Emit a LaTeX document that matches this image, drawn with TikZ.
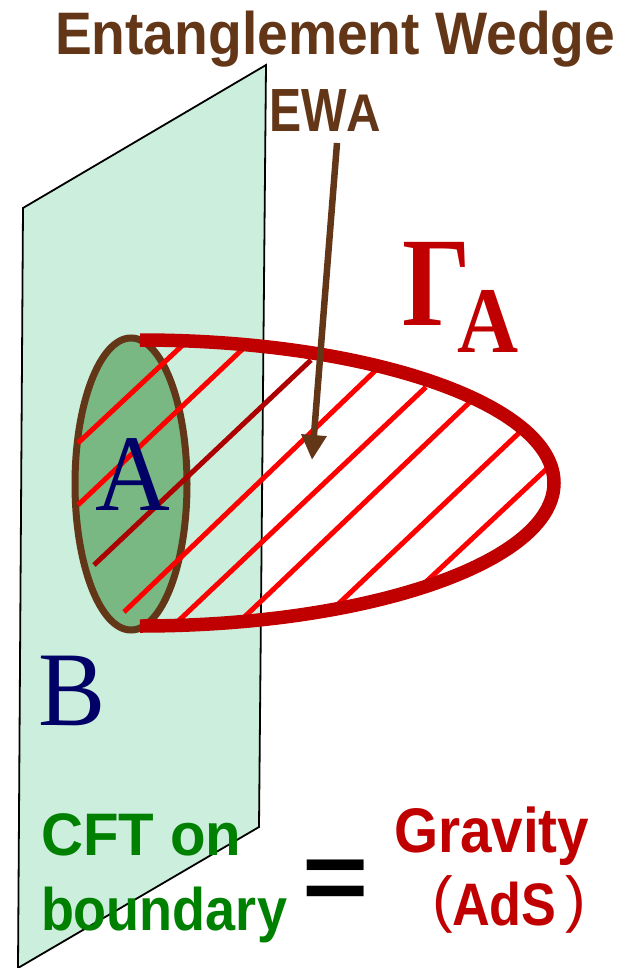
\documentclass[tikz,border=0pt]{standalone}
\usepackage{fontspec}
\setmainfont{Liberation Serif}
\newfontfamily\sansf{Liberation Sans}
\usetikzlibrary{arrows.meta}
\definecolor{planefill}{HTML}{CCEEDC}
\definecolor{diskfill}{HTML}{79B882}
\definecolor{brownc}{HTML}{633618}
\definecolor{gred}{HTML}{C00000}
\definecolor{hred}{HTML}{FF0000}
\definecolor{navyc}{HTML}{000066}
\definecolor{greenc}{HTML}{008000}
\newcommand\fsz[1]{\fontsize{#1}{#1}\selectfont}
\tikzset{
  txt/.style={inner sep=0pt, outer sep=0pt, anchor=base west},
  hatch/.style={draw=hred, line width=5pt},
  hatchdark/.style={draw=gred!90!black, line width=5pt},
}
\begin{document}
\begin{tikzpicture}[x=1pt,y=-1pt]
\useasboundingbox (0,0) rectangle (621,968);
% boundary plane
\draw[fill=planefill, line width=1.8pt, line join=miter]
  (23,208) -- (266,65) -- (259,827) -- (18,968) -- cycle;
% region A
\draw[fill=diskfill, draw=brownc, line width=7pt]
  (131,484) ellipse[x radius=56, y radius=146];
% hatching of the entanglement wedge
\draw[hatch] (78,443) -- (186,342);
\draw[hatch] (78,505) -- (250,342);
\draw[hatchdark] (94,565) -- (311,360);
\draw[hatch] (124,612) -- (376,370);
\draw[hatch] (172,627) -- (426,387);
\draw[hatch] (236,625) -- (472,400);
\draw[hatch] (332,610) -- (520,432);
\draw[hatch] (412,595) -- (554,462);
% minimal surface Gamma_A
\draw[gred, line width=13.5pt]
  (140,340) .. controls (368.6,340) and (554,404) .. (554,483)
  .. controls (554,562) and (368.6,626) .. (140,626);
% labels
\node[txt, text=brownc] (title) at (55,55)
  {\sansf\bfseries\scalebox{0.92}[1]{\fsz{60}Entanglement Wedge}};
\node[txt, text=brownc] (ewa) at (269,132)
  {\sansf\bfseries\scalebox{0.79}[1]{\fsz{61}EW}\scalebox{0.9}[1]{\fsz{53}A}};
\coordinate (ewtail) at (337,143);
\coordinate (ewtip) at (312,460);
\draw[brownc, line width=6.5pt, -{Triangle[width=24pt,length=25pt]}] (ewtail) -- (ewtip);
\node[txt, text=gred] (gamma) at (402,325)
  {\bfseries\scalebox{0.85}[1]{\fsz{127}Γ}};
\node[txt, text=gred] (gammasub) at (457,352)
  {\bfseries\scalebox{0.9}[1]{\fsz{94}A}};
\node[txt, text=navyc] (labA) at (95,510)
  {\scalebox{0.95}[1]{\fsz{109}A}};
\node[txt, text=navyc] (labB) at (38,725)
  {\scalebox{0.95}[1]{\fsz{106}B}};
\node[txt, text=greenc] (cft) at (41,855)
  {\sansf\bfseries\scalebox{0.97}[1]{\fsz{60}CFT on}};
\node[txt, text=greenc] (bdry) at (41,930)
  {\sansf\bfseries\scalebox{0.9}[1]{\fsz{60}boundary}};
\node[txt, text=black] (eq) at (302,910)
  {\sansf\bfseries\scalebox{1.05}[0.9]{\fsz{108}=}};
\node[txt, text=gred] (grav) at (394,852)
  {\sansf\bfseries\scalebox{0.9}[1]{\fsz{63}Gravity}};
\node[inner sep=0pt, text=gred] (lpar) at (443,904) {\sansf\fsz{62}(};
\node[txt, text=gred] (ads) at (452,925)
  {\sansf\bfseries\scalebox{0.87}[1]{\fsz{60}AdS}};
\node[inner sep=0pt, text=gred] (rpar) at (576,904) {\sansf\fsz{62})};
\end{tikzpicture}
\end{document}
